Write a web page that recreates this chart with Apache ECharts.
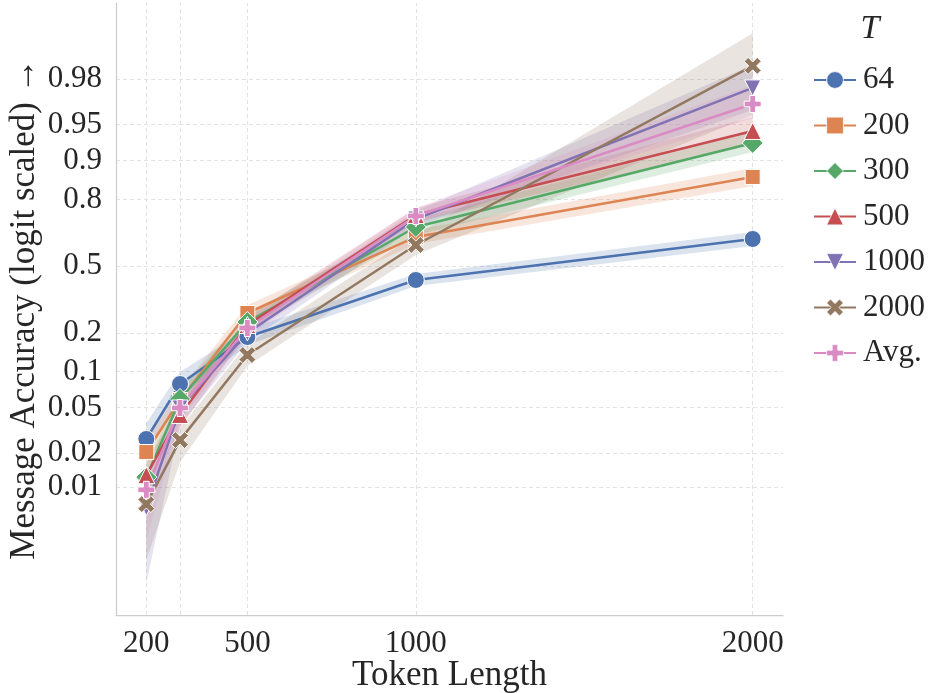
<!DOCTYPE html>
<html>
<head>
<meta charset="utf-8">
<script src="https://cdn.jsdelivr.net/npm/echarts@6/dist/echarts.min.js"></script>
<style>
  html, body { margin: 0; padding: 0; background: #fff; }
  #chart { width: 928px; height: 693px; }
</style>
</head>
<body>
<div id="chart"></div>
<script>
// x positions (token length)
const tokenLengths = [200, 300, 500, 1000, 2000];
const xTicks = [200, 500, 1000, 2000];
// y tick labels (accuracy, logit axis)
const yTicks = [0.01, 0.02, 0.05, 0.1, 0.2, 0.5, 0.8, 0.9, 0.95, 0.98];
const groupNames = ['64', '200', '300', '500', '1000', '2000', 'Avg.'];

// mean accuracy + band (low / high) per T
const acc64 = [0.0266, 0.0790, 0.1857, 0.4277, 0.637];
const lo64 = [0.0192, 0.0626, 0.1619, 0.3975, 0.6026];
const hi64 = [0.0367, 0.0992, 0.2123, 0.4585, 0.670];

const acc200 = [0.0204, 0.0579, 0.2733, 0.6465, 0.8644];
const lo200 = [0.0156, 0.0476, 0.2415, 0.6125, 0.8409];
const hi200 = [0.0260, 0.0704, 0.3075, 0.679, 0.8849];

const acc300 = [0.0122, 0.0591, 0.2377, 0.6925, 0.9283];
const lo300 = [0.0084, 0.0476, 0.2089, 0.6559, 0.9147];
const hi300 = [0.0156, 0.0704, 0.2691, 0.7267, 0.9421];

const acc500 = [0.0127, 0.0431, 0.2266, 0.743, 0.9432];
const lo500 = [0.0084, 0.0332, 0.1988, 0.7142, 0.9254];
const hi500 = [0.0163, 0.0525, 0.2571, 0.7698, 0.9569];

const acc1000 = [0.0065, 0.0495, 0.1988, 0.7267, 0.976];
const lo1000 = [0.00136, 0.0353, 0.1705, 0.6925, 0.9626];
const hi1000 = [0.0084, 0.0626, 0.2302, 0.7585, 0.985];

const acc2000 = [0.0070, 0.0260, 0.1356, 0.6075, 0.9847];
const lo2000 = [0.0022, 0.0166, 0.111, 0.557, 0.9586];
const hi2000 = [0.0094, 0.0332, 0.1647, 0.6559, 0.9922];

const accAvg = [0.0094, 0.0495, 0.2159, 0.739, 0.9668];
const loAvg = [0.0033, 0.0390, 0.1889, 0.7055, 0.956];
const hiAvg = [0.0120, 0.0602, 0.2453, 0.7698, 0.9774];

const means = [acc64, acc200, acc300, acc500, acc1000, acc2000, accAvg];
const lows = [lo64, lo200, lo300, lo500, lo1000, lo2000, loAvg];
const highs = [hi64, hi200, hi300, hi500, hi1000, hi2000, hiAvg];

// seaborn deep
const colors = ['#4C72B0', '#DD8452', '#55A868', '#C44E52', '#8172B3', '#937860', '#DA8BC3'];
const symbols = [
  'circle',
  'rect',
  'diamond',
  'triangle',
  'path://M-1,-1L1,-1L0,1Z',
  'path://M-3,-1.6L-1.6,-3L0,-1.4L1.6,-3L3,-1.6L1.4,0L3,1.6L1.6,3L0,1.4L-1.6,3L-3,1.6L-1.4,0Z',
  'path://M-1,-3H1V-1H3V1H1V3H-1V1H-3V-1H-1Z'
];
const symbolSizes = [17, 15, 21, 17, 16, 17, 17];

const logit = p => Math.log(p / (1 - p));
const font = '"Liberation Serif", "Times New Roman", serif';
const textColor = '#262626';

const chart = echarts.init(document.getElementById('chart'));

// 置信区间 (custom polygon)
const bandSeries = groupNames.map((name, g) => ({
  type: 'custom',
  silent: true,
  z: 1,
  data: [[tokenLengths[0], 0]],
  renderItem(params, api) {
    const top = tokenLengths.map((x, i) => api.coord([x, logit(highs[g][i])]));
    const bot = tokenLengths.map((x, i) => api.coord([x, logit(lows[g][i])])).reverse();
    return {
      type: 'polygon',
      shape: { points: top.concat(bot) },
      style: { fill: colors[g], opacity: 0.2 }
    };
  }
}));

const lineSeries = groupNames.map((name, g) => ({
  type: 'line',
  name: name,
  z: 3,
  data: tokenLengths.map((x, i) => [x, logit(means[g][i])]),
  symbol: symbols[g],
  symbolSize: symbolSizes[g],
  showAllSymbol: true,
  lineStyle: { width: 2.5, color: colors[g] },
  itemStyle: { color: colors[g], borderColor: '#fff', borderWidth: 1 },
  emphasis: { disabled: true }
}));

// dashed grid lines (below everything)
const gridSeries = {
  type: 'line',
  data: [],
  silent: true,
  z: 0,
  markLine: {
    z: 0,
    silent: true,
    symbol: ['none', 'none'],
    label: { show: false },
    lineStyle: { color: '#e3e3e3', type: [4, 3], width: 1 },
    data: tokenLengths.map(x => ({ xAxis: x })).concat(yTicks.map(p => ({ yAxis: logit(p) })))
  }
};

const option = {
  animation: false,
  backgroundColor: '#fff',
  grid: { left: 116, right: 145, top: 3, bottom: 78, outerBoundsMode: 'none', containLabel: false },
  xAxis: {
    type: 'value',
    min: 110,
    max: 2090,
    name: 'Token Length',
    nameLocation: 'middle',
    nameGap: 43,
    nameMoveOverlap: false,
    nameTextStyle: { fontFamily: font, fontSize: 35, color: textColor },
    axisLine: { onZero: false, lineStyle: { color: '#cccccc', width: 1.25 } },
    axisTick: { show: false },
    splitLine: { show: false },
    axisLabel: {
      customValues: xTicks,
      fontFamily: font, fontSize: 31, color: textColor, margin: 13,
      formatter: v => String(v)
    }
  },
  yAxis: {
    type: 'value',
    min: -7.263,
    max: 5.473,
    name: 'Message Accuracy (logit scaled) →',
    nameLocation: 'middle',
    nameGap: 74,
    nameMoveOverlap: false,
    nameTextStyle: { fontFamily: font, fontSize: 35, color: textColor },
    axisLine: { show: true, onZero: false, lineStyle: { color: '#cccccc', width: 1.25 } },
    axisTick: { show: false },
    splitLine: { show: false },
    axisLabel: {
      customValues: yTicks.map(logit),
      fontFamily: font, fontSize: 31, color: textColor, margin: 14,
      formatter: v => {
        const t = yTicks.find(p => Math.abs(logit(p) - v) < 1e-6);
        return t === undefined ? '' : String(t);
      }
    }
  },
  legend: {
    data: groupNames,
    orient: 'vertical',
    left: 808,
    top: 59,
    itemWidth: 42,
    itemHeight: 21,
    itemGap: 13.5,
    itemStyle: { borderWidth: 0.8 },
    textStyle: { fontFamily: font, fontSize: 31, color: textColor, lineHeight: 32, padding: [0, 0, 0, 2] }
  },
  graphic: [{
    type: 'text',
    x: 870,
    y: 29,
    style: {
      text: 'T',
      font: 'italic 34px "Liberation Serif", serif',
      fill: textColor,
      align: 'center',
      verticalAlign: 'middle'
    }
  }],
  series: [gridSeries].concat(bandSeries, lineSeries)
};

chart.setOption(option);
</script>
</body>
</html>
